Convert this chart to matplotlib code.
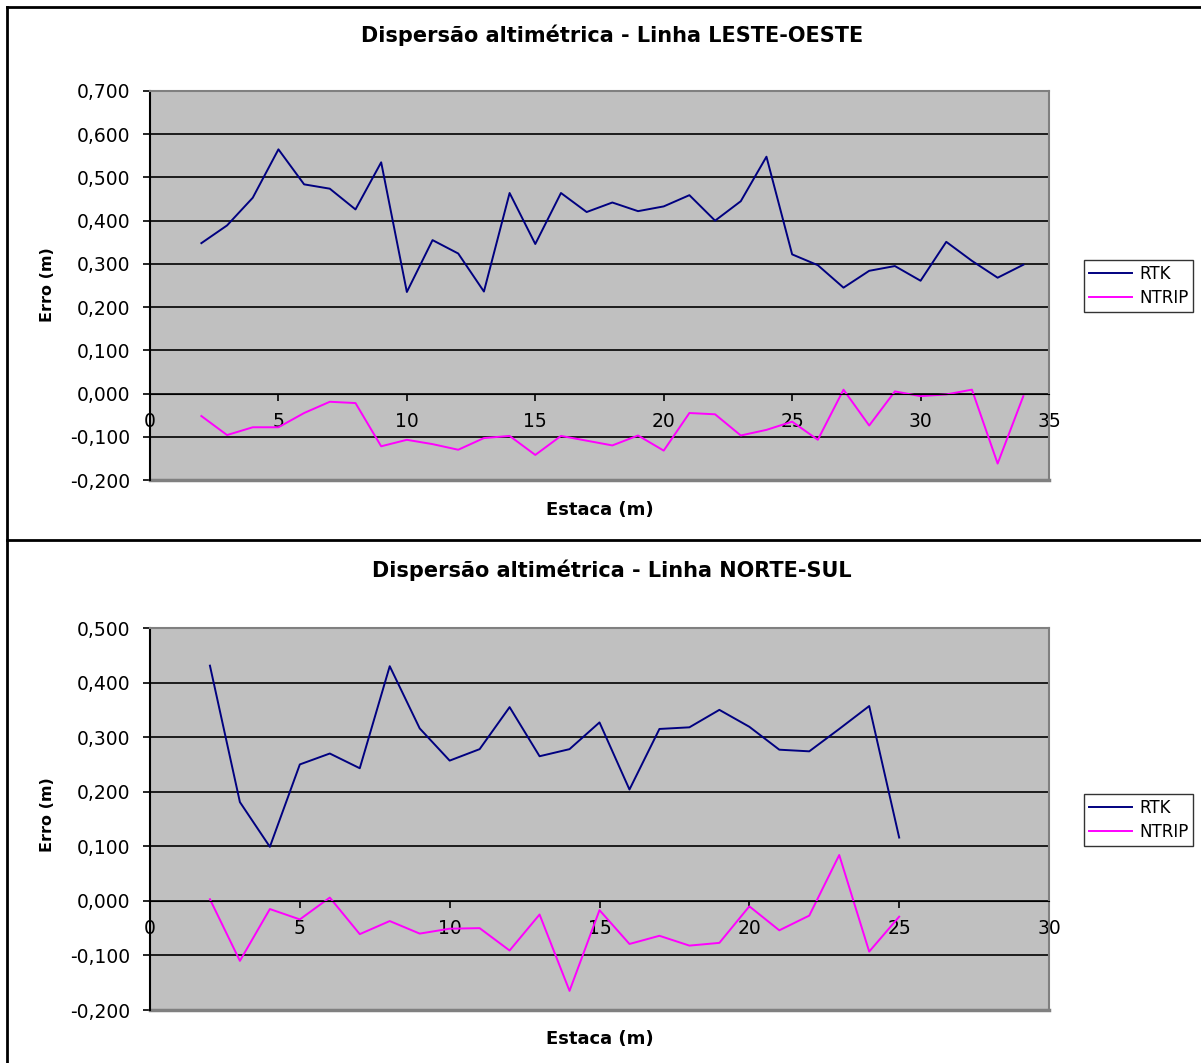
import matplotlib
matplotlib.use("Agg")
import matplotlib.pyplot as plt
from matplotlib.lines import Line2D
from matplotlib.ticker import FuncFormatter, MultipleLocator

plt.rcParams['font.family'] = ['DejaVu Sans']

# Linha LESTE-OESTE
lo_estaca = list(range(2, 35))
lo_rtk = [0.348, 0.389, 0.453, 0.565, 0.484, 0.474, 0.426, 0.535, 0.235, 0.355,
          0.324, 0.236, 0.464, 0.346, 0.464, 0.420, 0.442, 0.422, 0.433, 0.459,
          0.400, 0.445, 0.548, 0.322, 0.297, 0.245, 0.284, 0.295, 0.261, 0.351,
          0.307, 0.268, 0.298]
lo_ntrip = [-0.052, -0.096, -0.078, -0.078, -0.045, -0.019, -0.022, -0.122, -0.107, -0.117,
            -0.130, -0.103, -0.098, -0.142, -0.098, -0.109, -0.120, -0.097, -0.132, -0.045,
            -0.048, -0.097, -0.084, -0.065, -0.107, 0.009, -0.074, 0.005, -0.006, -0.002,
            0.009, -0.162, -0.006]

# Linha NORTE-SUL
ns_estaca = list(range(2, 26))
ns_rtk = [0.431, 0.181, 0.099, 0.250, 0.270, 0.243, 0.430, 0.316, 0.257, 0.278,
          0.355, 0.265, 0.278, 0.327, 0.204, 0.315, 0.318, 0.350, 0.319, 0.277,
          0.274, 0.315, 0.357, 0.116]
ns_ntrip = [0.003, -0.110, -0.015, -0.034, 0.006, -0.061, -0.037, -0.060, -0.051, -0.050,
            -0.091, -0.025, -0.165, -0.017, -0.079, -0.064, -0.082, -0.077, -0.010, -0.054,
            -0.027, 0.084, -0.093, -0.029]

W, H = 1201, 1063
fig = plt.figure(figsize=(W / 100, H / 100), dpi=100)


def box(left, top, right, bottom):
    return [left / W, 1 - bottom / H, (right - left) / W, (bottom - top) / H]


def draw_chart(rect, x, rtk, ntrip, xmax, ymin, ymax, title, title_y, xlabel_y, ylabel_y, leg_y):
    ax = fig.add_axes(box(*rect))
    ax.set_facecolor('#C0C0C0')
    l1, = ax.plot(x, rtk, color='#000080', lw=1.4, label='RTK')
    l2, = ax.plot(x, ntrip, color='#FF00FF', lw=1.4, label='NTRIP')
    ax.set_xlim(0, xmax)
    ax.set_ylim(ymin, ymax)
    ax.yaxis.set_major_locator(MultipleLocator(0.1))
    ax.xaxis.set_major_locator(MultipleLocator(5))
    ax.yaxis.set_major_formatter(FuncFormatter(lambda v, p: f"{v:.3f}".replace('.', ',').replace('-0,000', '0,000')))
    ax.grid(axis='y', color='black', lw=1.2)
    ax.set_axisbelow(True)
    ax.spines['bottom'].set_position(('data', 0))
    ax.spines['bottom'].set_color('black')
    ax.spines['left'].set_linewidth(1.5)
    for s in ('top', 'right'):
        ax.spines[s].set_color('#808080')
        ax.spines[s].set_linewidth(1.5)
    ax.tick_params(axis='x', direction='out', length=5, width=1.2, pad=8, labelsize=13.5)
    ax.tick_params(axis='y', direction='out', length=5, width=1.2, pad=9, labelsize=13.5)
    # bottom edge of the plot area
    ax.axhline(ymin, color='#808080', lw=2.5, clip_on=False)
    fig.text(612 / W, 1 - title_y / H, title, ha='center', va='center',
             fontsize=15, fontweight='bold')
    fig.text(600 / W, 1 - xlabel_y / H, 'Estaca (m)', ha='center', va='center',
             fontsize=13, fontweight='bold')
    fig.text(47 / W, 1 - ylabel_y / H, 'Erro (m)', ha='center', va='center',
             rotation=90, fontsize=11.5, fontweight='bold')
    fig.legend(handles=[l1, l2], loc='center left',
               bbox_to_anchor=(1084 / W, 1 - leg_y / H), frameon=True, fancybox=False,
               edgecolor='black', fontsize=12, handlelength=2.6, borderpad=0.3,
               labelspacing=0.35, handletextpad=0.4, borderaxespad=0)
    return ax


draw_chart((150, 91, 1049, 480), lo_estaca, lo_rtk, lo_ntrip, 35, -0.2, 0.7,
           'Dispersão altimétrica - Linha LESTE-OESTE', 35, 510, 285, 286)
draw_chart((150, 628, 1049, 1010), ns_estaca, ns_rtk, ns_ntrip, 30, -0.2, 0.5,
           'Dispersão altimétrica - Linha NORTE-SUL', 570, 1039, 815, 820)

# chart frames
fig.add_artist(Line2D([7 / W, 7 / W], [0, 1 - 7 / H], color='black', lw=2))
fig.add_artist(Line2D([7 / W, 1], [1 - 7 / H, 1 - 7 / H], color='black', lw=2))
fig.add_artist(Line2D([7 / W, 1], [1 - 540 / H, 1 - 540 / H], color='black', lw=2))

fig.savefig('out.png', dpi=100, facecolor='white')
